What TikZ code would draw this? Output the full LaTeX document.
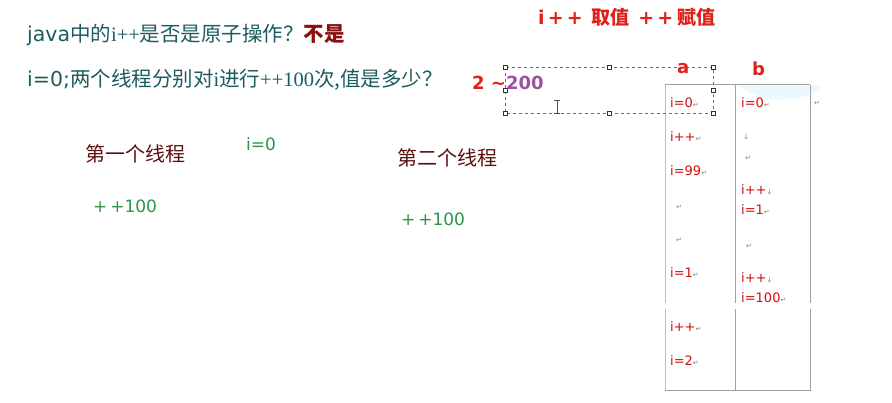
\documentclass[tikz,border=0pt]{standalone}
\usepackage{fontspec}
\setmainfont{Noto Sans CJK SC}
\newfontfamily\serifcn{Liberation Serif}
\newfontfamily\symf{DejaVu Sans}
\newfontfamily\lat{DejaVu Sans}
\definecolor{qteal}{HTML}{1D5C5C}
\definecolor{qdred}{HTML}{8B1010}
\definecolor{tbrown}{HTML}{5C1010}
\definecolor{tgreen}{HTML}{2A9548}
\definecolor{tred}{HTML}{E0201A}
\definecolor{cred}{HTML}{D01010}
\definecolor{tpurple}{HTML}{A050A0}
\definecolor{selblue}{HTML}{3A7A9A}
\definecolor{tline}{HTML}{A0A0A0}
\newcommand\retmark{{\symf\fontsize{7}{7}\selectfont\color{gray}↵}}
\newcommand\dnmark{{\symf\fontsize{7}{7}\selectfont\color{gray}↓}}
\begin{document}
\begin{tikzpicture}[x=1pt,y=-1pt,
  txt/.style={anchor=west,inner sep=0pt},
  q/.style={txt,font=\fontsize{20.5}{20.5}\selectfont,text=qteal},
  thr/.style={txt,font=\fontsize{20}{20}\selectfont,text=tbrown},
  grn/.style={txt,font=\lat\fontsize{17}{17}\selectfont,text=tgreen},
  ttl/.style={txt,font=\bfseries\fontsize{19}{19}\selectfont,text=tred},
  cell/.style={txt,font=\lat\fontsize{13}{13}\selectfont,text=cred},
  pm/.style={txt,font=\symf\fontsize{7}{7}\selectfont,text=gray},
  tbl/.style={draw=tline,line width=1pt},
  handle/.style={draw=black!80,fill=white,line width=0.5pt,minimum size=4pt,inner sep=0pt}]
\useasboundingbox (0,0) rectangle (892,403);
\fill[white] (0,0) rectangle (892,403);
% questions
\node[q] (q1) at (27,35) {{\lat java}中的{\serifcn i++}是否是原子操作？\textcolor{qdred}{\bfseries 不是}};
\node[q] (q2) at (27,80) {{\lat i=0;}两个线程分别对{\serifcn i}进行{\serifcn ++100}次,值是多少？};
% threads
\node[thr] (t1) at (85,154) {第一个线程};
\node[grn] (i0) at (246,144) {i=0};
\node[thr] (t2) at (397,158) {第二个线程};
\node[grn] (p1) at (93,206) {+\,+100};
\node[grn] (p2) at (401,219) {+\,+100};
% title
\node[ttl] (title) at (538,17) {{\lat\bfseries i\,+\,+}~~取值~~{\lat\bfseries +\,+}~赋值};
% faint arc
\fill[cyan!8] (740,86) .. controls (760,104) and (805,104) .. (822,86) -- cycle;
% table
\draw[tbl] (665,85) -- (810,85);
\draw[tbl,draw=black!25] (665,85) -- (665,303) (665,309) -- (665,391);
\draw[tbl] (735,85) -- (735,303) (735,309) -- (735,391);
\draw[tbl] (810,85) -- (810,303) (810,309) -- (810,391);
\draw[tbl] (665,391) -- (810,391);
% selection box
\draw[selblue,dashed,line width=0.7pt] (505,67) rectangle (713,113);
\foreach \hx/\hy [count=\k] in {505/67,609/67,713/67,505/90,713/90,505/113,609/113,713/113}
  \node[handle] (h\k) at (\hx,\hy) {};
% cursor
\draw[black!70,line width=0.6pt] (557,100) -- (557,113) (554,100) -- (560,100) (554,113) -- (560,113);
% answer
\node[txt,font=\lat\bfseries\fontsize{18}{18}\selectfont] (ans) at (472,83) {\textcolor{tred}{2 \textasciitilde}\textcolor{tpurple}{200}};
% column heads
\node[ttl,font=\lat\bfseries\fontsize{18}{18}\selectfont] (ca) at (677,69) {a};
\node[ttl,font=\lat\bfseries\fontsize{18}{18}\selectfont] (cb) at (752,69) {b};
% column a
\node[cell] (a1) at (670,103) {i=0\retmark};
\node[cell] (a2) at (670,137) {i++\retmark};
\node[cell] (a3) at (670,171) {i=99\retmark};
\node[pm] (a4) at (676,207) {↵};
\node[pm] (a5) at (676,240) {↵};
\node[cell] (a6) at (670,273) {i=1\retmark};
\node[cell] (a7) at (670,327) {i++\retmark};
\node[cell] (a8) at (670,361) {i=2\retmark};
% column b
\node[cell] (b1) at (741,103) {i=0\retmark};
\node[pm] (b2) at (743,137) {↓};
\node[pm] (b3) at (745,158) {↵};
\node[cell] (b4) at (741,190) {i++\dnmark};
\node[cell] (b5) at (741,210) {i=1\retmark};
\node[pm] (b6) at (746,246) {↵};
\node[cell] (b7) at (741,278) {i++\dnmark};
\node[cell] (b8) at (741,298) {i=100\retmark};
\node[pm] (r1) at (814,103) {↵};
\end{tikzpicture}
\end{document}
